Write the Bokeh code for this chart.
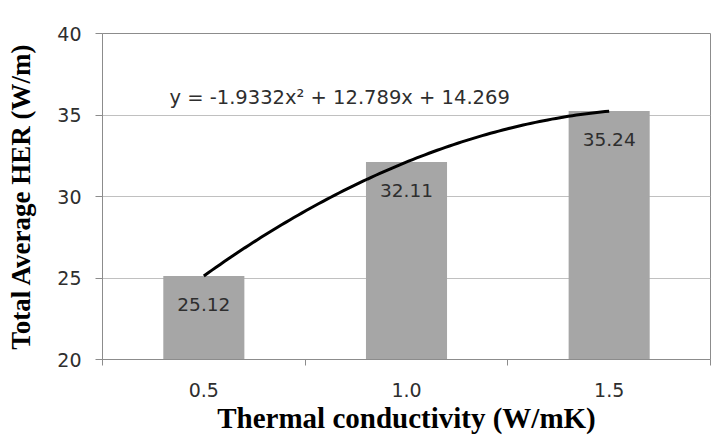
from bokeh.plotting import figure
from bokeh.models import FixedTicker, ColumnDataSource, Range1d
from bokeh.core.properties import value
from bokeh.embed import file_html
from bokeh.resources import INLINE
import numpy as np

# Data
categories = ["0.5", "1.0", "1.5"]
her_values = [25.12, 32.11, 35.24]
value_labels = ["25.12", "32.11", "35.24"]
trend_coeffs = [-1.9332, 12.789, 14.269]  # a*x^2 + b*x + c, x = category index
equation_text = "y = -1.9332x\u00b2 + 12.789x + 14.269"
y_ticks = [20, 25, 30, 35, 40]

idx = list(range(1, len(categories) + 1))

p = figure(width=716, height=436, output_backend="svg", toolbar_location=None,
           x_range=Range1d(0.5, len(categories) + 0.5), y_range=Range1d(20, 40),
           min_border_left=102, min_border_right=6, min_border_top=33,
           min_border_bottom=76)
p.background_fill_color = "white"
p.border_fill_color = "white"
p.outline_line_color = "#8c8c8c"
p.outline_line_width = 1

src = ColumnDataSource(dict(x=idx, y=her_values, lab=value_labels))
p.vbar(x="x", top="y", bottom=20, width=0.4, source=src,
       fill_color="#a6a6a6", line_color=None)

p.text(x="x", y="y", text="lab", source=src, text_align="center",
       text_baseline="middle", y_offset=28, text_font=value("DejaVu Sans"),
       text_font_size="18.5px", text_color="#2e2e2e")

# Trendline from the displayed polynomial
xs = np.linspace(idx[0], idx[-1], 100)
a, b, c = trend_coeffs
ys = a * xs**2 + b * xs + c
p.line(xs, ys, line_color="black", line_width=3)

p.text(x=[1.67], y=[36.05], text=[equation_text], text_align="center",
       text_baseline="middle", text_font=value("DejaVu Sans"),
       text_font_size="19.5px", text_color="#2e2e2e")

# X axis
xa = p.xaxis[0]
xa.ticker = FixedTicker(ticks=idx, minor_ticks=[i + 0.5 for i in range(0, len(categories) + 1)])
xa.major_label_overrides = {i: c for i, c in zip(idx, categories)}
xa.major_tick_line_color = None
xa.major_tick_out = 0
xa.major_tick_in = 0
xa.minor_tick_out = 6
xa.minor_tick_in = 0
xa.minor_tick_line_color = "#8c8c8c"
xa.axis_line_color = "#8c8c8c"
xa.major_label_text_font = "DejaVu Sans"
xa.major_label_text_font_size = "19px"
xa.major_label_text_color = "#2e2e2e"
xa.major_label_standoff = 17
xa.axis_label = "Thermal conductivity (W/mK)"
xa.axis_label_text_font = "Liberation Serif"
xa.axis_label_text_font_style = "bold"
xa.axis_label_text_font_size = "29px"
xa.axis_label_text_color = "black"
xa.axis_label_standoff = 2

# Y axis
ya = p.yaxis[0]
ya.ticker = FixedTicker(ticks=y_ticks, minor_ticks=[])
ya.major_tick_out = 7
ya.major_tick_in = 0
ya.major_tick_line_color = "#8c8c8c"
ya.axis_line_color = "#8c8c8c"
ya.major_label_text_font = "DejaVu Sans"
ya.major_label_text_font_size = "19px"
ya.major_label_text_color = "#2e2e2e"
ya.major_label_standoff = 14
ya.axis_label = "Total Average HER (W/m)"
ya.axis_label_text_font = "Liberation Serif"
ya.axis_label_text_font_style = "bold"
ya.axis_label_text_font_size = "27px"
ya.axis_label_text_color = "black"
ya.axis_label_standoff = 18

p.xgrid.grid_line_color = None
p.ygrid.grid_line_color = "#c0c0c0"
p.ygrid.grid_line_width = 1

open("out.html", "w").write(file_html(p, INLINE))
